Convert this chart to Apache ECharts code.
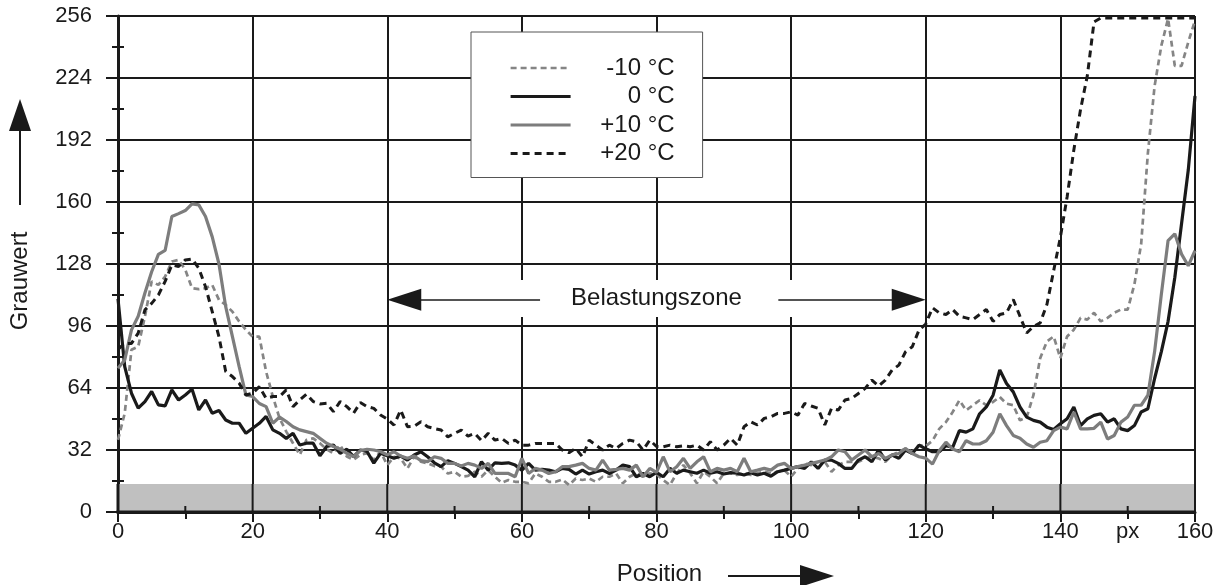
<!DOCTYPE html>
<html><head><meta charset="utf-8">
<script src="https://cdn.jsdelivr.net/npm/echarts@6/dist/echarts.min.js"></script>
<style>html,body{margin:0;padding:0;background:#fff}#c{width:1232px;height:585px}</style>
</head><body><div id="c"></div>
<script>
// ---- data ----
const seriesNames = ['-10 °C', '0 °C', '+10 °C', '+20 °C'];
const zoneLabel = 'Belastungszone';
const xTitle = 'Position';
const yTitle = 'Grauwert';
const unitLabel = 'px';
const unitLabelAt = 150;
const greyBand = [0, 14.5];          // Grauwert range of the grey bar
const zone = [40, 120];              // Belastungszone (Position)
const zoneY = 109.5;                 // height of the zone arrows (Grauwert)

// Grauwert at Position 0,1,2,...,160
const m10 = [37.2,51,83.7,85.4,100.9,119,117.2,121.5,129.3,130.1,125,115.5,115,115.5,117.2,109.5,106.9,103.4,98.3,94,
90.5,90.5,72.5,59.6,48.4,41.5,35.5,29.5,37.2,38,35.5,32.4,30.3,34.6,28.6,26.9,29.5,30.3,26.9,31.2,
24.2,28.5,27.7,22.5,28.5,26,25.1,23.7,23.4,19.9,20.8,18.2,18.6,20.8,18.2,21.6,18.2,15.1,16.5,15.6,
15.6,14.8,19.9,18.2,15.6,15.6,16.8,13.9,17.3,16.5,17.3,15.6,18.2,18.2,19.9,14.8,18.2,19.9,18.2,19.9,
19.5,16.5,13.9,20,24.2,20,14.8,20.8,18.2,14.8,20,20,19.1,20,19.1,20,20.8,20,20.8,21.6,
18.2,22.5,25.1,24.2,25.9,25.9,20.8,24.2,25.9,25.9,25.9,27.7,28.5,27.7,25.9,29.4,31.1,32.8,31.1,34.5,
34,36.8,42.9,46.4,51.6,57.7,52.5,55.1,57.7,55.1,56.8,59.4,55.9,55.1,47.3,49,60.3,79.4,88,90.6,
79.4,90.6,94.1,100.2,99.3,102.8,98.4,100.2,102.8,104.5,104.5,117.5,138.3,185.2,219.9,240.7,254.6,230.3,230.3,242.5,
253.7];
const p0 = [110,75,61.3,53.6,57,62.2,55.3,54.8,63,57.8,60.4,63.4,52.7,57.8,51,52.4,47.5,45.8,45.8,40.6,
43.2,45.8,49.3,42.4,40.6,38,40.6,34.6,35.5,35.5,29,33.8,34.6,30.3,32.4,28.6,32,31.2,25.2,30.3,
29,27.7,28.9,26.8,29.4,31.1,28.5,25.4,23.4,26.5,25.1,23.4,21.6,18.2,26,21.6,25.4,25.1,25.4,24.2,
21.6,25.1,21.6,22,21.6,20.8,22.5,22,19.6,21.6,19.6,20.8,21.6,19.9,21.6,24.2,23.4,18.2,19.9,18.2,
20.4,18.2,22.5,20,21.6,20.8,20,21.6,20,20.8,19.6,20.3,20,19.1,20.3,19.1,20,18.5,20.8,21.6,
22.5,23.4,22.5,25.9,22.5,26.8,26.8,25.1,22.5,22.5,26.8,28.5,25.9,32,26.8,29.4,27.7,32,30.2,34.5,
32.6,31.1,31.1,34.2,33.4,42,41.2,42.9,50.7,54.2,60.3,73.3,66.3,62,54.2,49,47.3,46.4,43.8,42.6,
45.5,48.1,54.2,44.6,48.1,49.9,50.7,46.4,48.1,42.9,42,44.6,51.6,53.3,68.9,82.8,98.4,121,148.8,176.5,
214.7];
const p10 = [74.2,78.5,94,101,113,124,133,135,152.5,154,155.6,159,158.5,152.5,142,128,106,90.5,75,60.4,
59.6,56,54.4,45.8,49,46.7,44,42.4,41.5,40.6,38,35.5,33.8,32.4,30.3,28.6,31.7,32.4,32,31.2,
29.5,31.1,28.9,27.7,28.9,26.5,26,28.5,27.7,25.1,25.1,23.7,25.1,24.2,22.5,25.1,19.9,19.9,19.9,18.2,
27.7,19.9,22.5,21.6,19.9,20.8,23.4,23.4,24.2,25.1,22.5,21.6,26.8,21.6,22,22.5,21.6,24.2,18.2,22.5,
20.4,28.5,20.8,23.4,27.7,22.5,25.9,28.5,20.8,22.5,21.6,22.5,20.8,27.7,20.8,21.6,22.5,21.6,24.2,25.1,
22.5,23.4,24.2,25.1,25.9,26.8,28.5,32,31.1,26.8,29.4,32,28.5,30.2,27.7,29.4,30.2,32.8,30.2,28.5,
27.8,24.7,31.6,36,32.5,31.1,36.8,35.1,35.1,36.8,41.2,50.7,44.6,39.5,38.1,35.1,33.4,36,36.8,42,
43.8,42.9,51.6,42.9,42.9,43.2,46.4,37.7,39.5,46.4,49,55.1,55.1,60.3,82.8,112.3,140.1,143.6,133.1,127.1,
134.9];
const p20 = [84,87,87,92.3,104.3,107.7,112,119,127.5,126.7,130.1,130.6,125.8,116.3,103.4,90.5,72.5,69.9,66.5,60.4,
61.3,64.7,58.7,59.6,59.6,63,54.4,57.8,60.8,57,55.8,56.1,51.8,57,54.4,51,56.5,54.4,53.5,50.1,
48,44.9,52.6,44,44.3,46.6,44,43.1,42.3,38.8,40.6,42.3,39.2,40.6,36.8,40.6,37.1,38,35.4,37.1,
34.5,34.5,35.4,35.4,35.4,35.4,32,30.6,32.8,28.5,37.1,34.5,32,34.5,32.8,35.4,37.1,36.3,32,37.1,
33.8,33.7,34.5,33.7,34.2,33.7,34.5,32,36.3,32,34.5,38,34.5,44,46.6,44.9,48.3,49.2,50.9,50.9,
51.7,50,56,54.7,53.5,44.9,53.5,52.6,57.8,58.6,61.2,63.8,68.1,65,68.1,73.3,75.8,82.7,85.3,93.9,
97,105.4,102.8,101.9,104.5,101,100.2,99.3,101.9,104.5,98.4,101.9,102.8,109.7,101,92.4,95.8,97.6,107.1,124.5,
141.8,162.6,186.9,207.8,225.1,252.9,255,255,255,255,255,255,255,255,255,255,255,255,255,255,
255];

// ---- chart ----
const FONT = 'Liberation Sans';
const INK = '#1a1a1a';
const toPairs = arr => arr.map((v, i) => [i, v]);

const lineStyles = [
  {color: '#858585', width: 2.7, type: [6, 4]},
  {color: INK, width: 3.2, type: 'solid'},
  {color: '#7d7d7d', width: 3.2, type: 'solid'},
  {color: INK, width: 3, type: [7, 5]}
];
const values = [m10, p0, p10, p20];

const dataSeries = seriesNames.map((name, k) => ({
  name: name,
  type: 'line',
  data: toPairs(values[k]),
  symbol: 'none',
  showSymbol: false,
  z: 6,
  color: lineStyles[k].color,
  lineStyle: lineStyles[k],
  itemStyle: {color: lineStyles[k].color}
}));

const X_MAX = 160, X_MAJOR = 20, X_MINOR = 10;
const xPerPx = X_MAX / (1195 - 118);
const headUnits = 17 * xPerPx;   // half arrow-head length in Position units

// grey bar, with the grid lines and inner minor ticks kept visible across it
function renderBand(params, api) {
  const a = api.coord([0, greyBand[0]]);
  const b = api.coord([X_MAX, greyBand[1]]);
  const children = [{
    type: 'rect',
    shape: {x: a[0], y: b[1], width: b[0] - a[0], height: a[1] - b[1]},
    style: {fill: '#c0c0c0'}
  }];
  for (let x = X_MINOR; x <= X_MAX; x += X_MINOR) {
    const p = api.coord([x, 0]);
    const major = (x % X_MAJOR === 0);
    const topY = major ? b[1] : p[1] - 6;
    children.push({
      type: 'line',
      shape: {x1: p[0], y1: p[1], x2: p[0], y2: topY},
      style: {stroke: INK, lineWidth: 2}
    });
  }
  children.push({type: 'line', shape: {x1: a[0], y1: a[1], x2: a[0], y2: b[1]}, style: {stroke: INK, lineWidth: 3}});
  children.push({type: 'line', shape: {x1: a[0] - 1.5, y1: a[1], x2: b[0] + 1, y2: a[1]}, style: {stroke: INK, lineWidth: 3}});
  return {type: 'group', children: children};
}

const option = {
  animation: false,
  backgroundColor: '#fff',
  textStyle: {fontFamily: FONT, color: INK},
  grid: {left: 118, right: 37, top: 16, bottom: 73, containLabel: false, outerBoundsMode: 'none'},
  legend: {
    data: seriesNames,
    orient: 'vertical',
    left: 471, top: 32,
    z: 8,
    padding: [24, 28, 12, 38],
    itemWidth: 60, itemHeight: 14, itemGap: 4.5,
    backgroundColor: '#fff',
    borderColor: '#555', borderWidth: 1,
    selectedMode: false,
    lineStyle: {width: 'inherit'},
    itemStyle: {color: 'rgba(0,0,0,0)', borderColor: 'rgba(0,0,0,0)', borderWidth: 0, opacity: 0},
    formatter: n => '{r|' + n + '}',
    textStyle: {
      fontFamily: FONT, fontSize: 24, color: INK,
      rich: {r: {width: 99, align: 'right', fontSize: 24, lineHeight: 26, fontFamily: FONT, color: INK}}
    }
  },
  xAxis: [{
    type: 'value', min: 0, max: X_MAX, interval: X_MAJOR, position: 'bottom',
    axisLine: {show: true, onZero: false, lineStyle: {color: INK, width: 3}},
    axisTick: {show: true, inside: false, length: 10, lineStyle: {color: INK, width: 2}},
    minorTick: {show: true, splitNumber: 2, length: 7, lineStyle: {color: INK, width: 2}},
    axisLabel: {fontSize: 22, fontFamily: FONT, color: INK, margin: 9},
    splitLine: {show: true, lineStyle: {color: INK, width: 2}},
    name: xTitle, nameLocation: 'middle', nameGap: 50,
    nameTextStyle: {fontSize: 24, fontFamily: FONT, color: INK, padding: [0, 0, 0, 6]}
  }, {
    type: 'value', min: 0, max: X_MAX, interval: X_MINOR, position: 'bottom',
    axisLine: {show: false},
    axisTick: {show: true, inside: true, length: 6, lineStyle: {color: INK, width: 2}},
    axisLabel: {fontSize: 22, fontFamily: FONT, color: INK, margin: 9,
      formatter: v => (v === unitLabelAt ? unitLabel : '')},
    splitLine: {show: false}
  }],
  yAxis: [{
    type: 'value', min: 0, max: 256, interval: 32, position: 'left',
    axisLine: {show: true, onZero: false, lineStyle: {color: INK, width: 3}},
    axisTick: {show: true, inside: false, length: 12, lineStyle: {color: INK, width: 2}},
    minorTick: {show: true, splitNumber: 2, length: 6, lineStyle: {color: INK, width: 2}},
    axisLabel: {fontSize: 22, fontFamily: FONT, color: INK, margin: 26},
    splitLine: {show: true, lineStyle: {color: INK, width: 2}},
    name: yTitle, nameLocation: 'middle', nameRotate: 90, nameGap: 86,
    nameTextStyle: {fontSize: 24, fontFamily: FONT, color: INK, padding: [0, 34, 0, 0]}
  }, {
    type: 'value', min: 0, max: 256, interval: 16, position: 'left',
    axisLine: {show: false},
    axisTick: {show: true, inside: true, length: 6, lineStyle: {color: INK, width: 2}},
    axisLabel: {show: false},
    splitLine: {show: false}
  }],
  series: [
    {
      type: 'custom', z: 1, silent: true, clip: false,
      data: [[0, greyBand[1]]],
      renderItem: renderBand
    },
    {
      type: 'line', data: [], z: 4, silent: true, clip: false,
      markArea: {
        silent: true, z: 4,
        itemStyle: {color: '#fff'},
        label: {show: true, position: 'inside', fontSize: 24, fontFamily: FONT, color: INK},
        data: [[{name: zoneLabel, coord: [zone[0] + 1, 100.6]}, {coord: [zone[1] - 1, 119.7]}]]
      },
      markLine: {
        silent: true, z: 5,
        symbol: ['none', 'triangle'],
        symbolSize: [22, 34],
        label: {show: false},
        lineStyle: {color: INK, width: 1.5, type: 'solid'},
        itemStyle: {color: INK},
        data: [
          [{coord: [62.7, zoneY]}, {coord: [zone[0] + headUnits, zoneY]}],
          [{coord: [98.1, zoneY]}, {coord: [zone[1] - headUnits, zoneY]}]
        ]
      }
    }
  ].concat(dataSeries),
  graphic: [
    {type: 'line', shape: {x1: 20, y1: 205, x2: 20, y2: 128}, style: {stroke: INK, lineWidth: 2}, z: 10},
    {type: 'polygon', shape: {points: [[20, 99], [9, 131], [31, 131]]}, style: {fill: INK}, z: 10},
    {type: 'line', shape: {x1: 728, y1: 576, x2: 802, y2: 576}, style: {stroke: INK, lineWidth: 2}, z: 10},
    {type: 'polygon', shape: {points: [[834, 576], [800, 565], [800, 587]]}, style: {fill: INK}, z: 10}
  ]
};

const chart = echarts.init(document.getElementById('c'), null, {renderer: 'canvas'});
chart.setOption(option);
</script>
</body></html>
